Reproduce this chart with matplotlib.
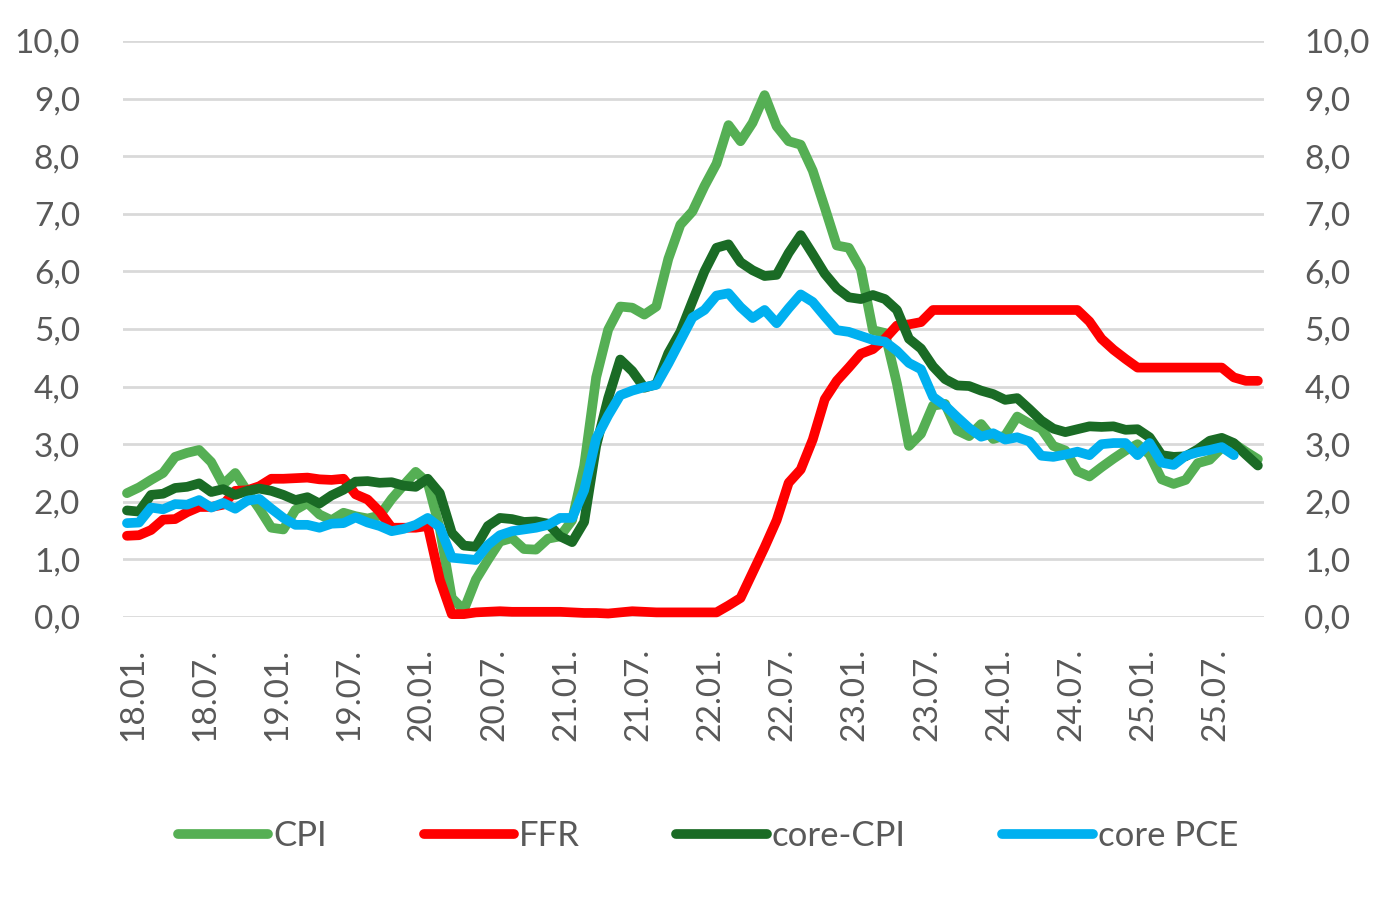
import matplotlib
matplotlib.use("Agg")
import matplotlib.pyplot as plt
from matplotlib.ticker import FixedLocator, FuncFormatter

# ---- data: monthly, Jan 2018 ... Nov 2025 (core PCE to Sep 2025) ----
cpi = [2.15, 2.25, 2.38, 2.50, 2.78, 2.85, 2.90, 2.69, 2.30, 2.50, 2.18, 1.88,
       1.55, 1.52, 1.86, 1.98, 1.78, 1.68, 1.81, 1.75, 1.71, 1.76, 2.05, 2.29,
       2.52, 2.33, 1.54, 0.33, 0.12, 0.65, 0.99, 1.31, 1.37, 1.18, 1.17, 1.36,
       1.40, 1.68, 2.62, 4.16, 4.99, 5.39, 5.37, 5.25, 5.39, 6.22, 6.81, 7.04,
       7.48, 7.87, 8.54, 8.26, 8.58, 9.06, 8.52, 8.26, 8.20, 7.75, 7.11, 6.45,
       6.41, 6.04, 4.98, 4.93, 4.05, 2.97, 3.18, 3.67, 3.70, 3.24, 3.14, 3.35,
       3.09, 3.15, 3.48, 3.36, 3.27, 2.97, 2.89, 2.53, 2.44, 2.60, 2.75, 2.89,
       3.00, 2.82, 2.39, 2.31, 2.38, 2.67, 2.73, 2.94, 3.01, 2.87, 2.74]

ffr = [1.41, 1.42, 1.51, 1.69, 1.70, 1.82, 1.91, 1.91, 1.95, 2.19, 2.20, 2.27,
       2.40, 2.40, 2.41, 2.42, 2.39, 2.38, 2.40, 2.13, 2.04, 1.83, 1.55, 1.55,
       1.55, 1.58, 0.65, 0.05, 0.05, 0.08, 0.09, 0.10, 0.09, 0.09, 0.09, 0.09,
       0.09, 0.08, 0.07, 0.07, 0.06, 0.08, 0.10, 0.09, 0.08, 0.08, 0.08, 0.08,
       0.08, 0.08, 0.20, 0.33, 0.77, 1.21, 1.68, 2.33, 2.56, 3.08, 3.78, 4.10,
       4.33, 4.57, 4.65, 4.83, 5.06, 5.08, 5.12, 5.33, 5.33, 5.33, 5.33, 5.33,
       5.33, 5.33, 5.33, 5.33, 5.33, 5.33, 5.33, 5.33, 5.13, 4.83, 4.64, 4.48,
       4.33, 4.33, 4.33, 4.33, 4.33, 4.33, 4.33, 4.33, 4.16, 4.10, 4.10]

core_cpi = [1.85, 1.83, 2.12, 2.14, 2.24, 2.26, 2.32, 2.17, 2.22, 2.12, 2.19, 2.23,
            2.19, 2.12, 2.03, 2.08, 1.97, 2.11, 2.21, 2.35, 2.36, 2.33, 2.34, 2.28,
            2.26, 2.40, 2.15, 1.46, 1.24, 1.22, 1.58, 1.72, 1.70, 1.65, 1.66, 1.62,
            1.40, 1.30, 1.65, 2.97, 3.80, 4.47, 4.27, 3.98, 4.04, 4.58, 4.95, 5.48,
            6.00, 6.41, 6.47, 6.16, 6.02, 5.92, 5.94, 6.32, 6.63, 6.30, 5.96, 5.71,
            5.55, 5.52, 5.59, 5.52, 5.33, 4.83, 4.66, 4.35, 4.13, 4.02, 4.01, 3.93,
            3.87, 3.77, 3.80, 3.61, 3.41, 3.27, 3.21, 3.26, 3.31, 3.30, 3.31, 3.25,
            3.26, 3.12, 2.81, 2.78, 2.79, 2.91, 3.06, 3.11, 3.02, 2.82, 2.63]

core_pce = [1.63, 1.64, 1.90, 1.87, 1.96, 1.95, 2.03, 1.90, 1.98, 1.88, 2.02, 2.05,
            1.88, 1.72, 1.60, 1.60, 1.55, 1.62, 1.63, 1.73, 1.64, 1.58, 1.49, 1.53,
            1.60, 1.72, 1.56, 1.03, 1.01, 0.99, 1.25, 1.42, 1.49, 1.52, 1.55, 1.60,
            1.72, 1.72, 2.20, 3.10, 3.50, 3.85, 3.93, 3.99, 4.03, 4.40, 4.80, 5.20,
            5.33, 5.58, 5.62, 5.38, 5.19, 5.33, 5.10, 5.36, 5.60, 5.47, 5.22, 4.98,
            4.95, 4.88, 4.81, 4.78, 4.62, 4.41, 4.30, 3.82, 3.67, 3.47, 3.28, 3.13,
            3.19, 3.08, 3.12, 3.05, 2.80, 2.78, 2.82, 2.87, 2.81, 3.00, 3.02, 3.02,
            2.81, 3.02, 2.68, 2.64, 2.80, 2.86, 2.90, 2.95, 2.81]

tick_labels = ["18.01.", "18.07.", "19.01.", "19.07.", "20.01.", "20.07.",
               "21.01.", "21.07.", "22.01.", "22.07.", "23.01.", "23.07.",
               "24.01.", "24.07.", "25.01.", "25.07."]
y_ticks = [0, 1, 2, 3, 4, 5, 6, 7, 8, 9, 10]
series_names = ["CPI", "FFR", "core-CPI", "core PCE"]
colors = ["#55AF54", "#FF0000", "#1A6B25", "#00B0F0"]

FONT = ["Lato", "DejaVu Sans"]
TXT = "#595959"
plt.rcParams["font.family"] = FONT

fig = plt.figure(figsize=(13.94, 8.99), dpi=100)
ax = fig.add_axes([123/1394, 1-617/899, (1264-123)/1394, (617-41)/899])

all_series = [cpi, ffr, core_cpi, core_pce]
lines = []
for k, (name, data, c) in enumerate(zip(series_names, all_series, colors)):
    ln, = ax.plot(range(len(data)), data, color=c, lw=7.0, label=name,
                  solid_joinstyle="round", solid_capstyle="round",
                  zorder=3 + k, clip_on=False)
    lines.append(ln)

fmt = FuncFormatter(lambda v, p: f"{v:.1f}".replace(".", ","))
ax.set_xlim(-0.33, 94.51)
ax.set_ylim(0, 10)
ax.yaxis.set_major_locator(FixedLocator(y_ticks))
ax.yaxis.set_major_formatter(fmt)
ax.grid(axis="y", color="#D9D9D9", lw=2.0, zorder=0)
ax.set_axisbelow(True)
ax.set_xticks([0.5 + 6 * k for k in range(len(tick_labels))])
ax.set_xticklabels(tick_labels, rotation=90)
for s in ax.spines.values():
    s.set_visible(False)
ax.tick_params(axis="both", length=0, colors=TXT, labelsize=24)
ax.tick_params(axis="y", pad=31)
ax.tick_params(axis="x", pad=22)

ax2 = ax.twinx()
ax2.set_ylim(0, 10)
ax2.yaxis.set_major_locator(FixedLocator(y_ticks))
ax2.yaxis.set_major_formatter(fmt)
for s in ax2.spines.values():
    s.set_visible(False)
ax2.tick_params(axis="y", length=0, colors=TXT, labelsize=24, pad=29)

leg = fig.legend(handles=lines, labels=series_names, loc="center",
                 bbox_to_anchor=(0.508, 1-836/899), ncol=4, frameon=False,
                 handlelength=2.6, handletextpad=0.15,
                 columnspacing=2.78, labelcolor=TXT,
                 prop={"family": FONT, "size": 25})

fig.savefig("out.png", dpi=100, facecolor="white")
